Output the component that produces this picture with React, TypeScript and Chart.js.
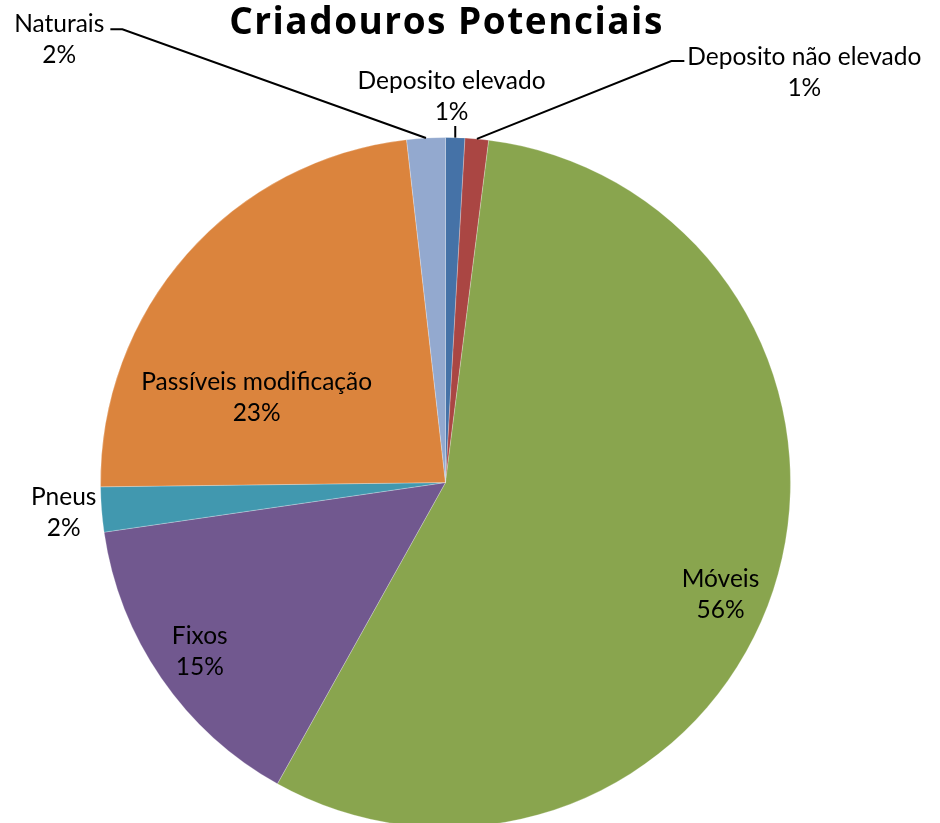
import React, { useEffect, useRef } from "react";
import { Chart, registerables } from "chart.js";

Chart.register(...registerables);

const TITLE = "Criadouros Potenciais";
const categories = [
  "Deposito elevado",
  "Deposito não elevado",
  "Móveis",
  "Fixos",
  "Pneus",
  "Passíveis modificação",
  "Naturais",
];
const values = [0.9, 1.1, 56.1, 14.6, 2.1, 23.4, 1.8];
const colors = ["#4572A7", "#AA4643", "#89A54E", "#71588F", "#4198AF", "#DB843D", "#93A9CF"];

// label layout: angle in degrees clockwise from 12 o'clock (null = slice middle), distance as fraction of radius
const labelAngles: (number | null)[] = [0.9, 41.2, 112.2, null, 265.5, 294.2, 318.9];
const labelDists = [1.119, 1.579, 0.861, 0.865, 1.11, 0.6, 1.703];
const labelLeaders: (string | null)[] = ["bottom", "left", null, null, null, null, "right"];

const LABEL_FONT = `24.5px Lato, 'Noto Sans', sans-serif`;
const TITLE_FONT = `bold 37px 'Open Sans', Lato, sans-serif`;
const LINE_H = 31;

const labelPlugin = {
  id: "pieLabels",
  afterDatasetsDraw(chart: any) {
    const ctx = chart.ctx as CanvasRenderingContext2D;
    const meta = chart.getDatasetMeta(0);
    const data = chart.data.datasets[0].data as number[];
    const total = data.reduce((a, b) => a + b, 0);
    ctx.save();
    // title
    const first = meta.data[0];
    ctx.font = TITLE_FONT;
    (ctx as any).letterSpacing = "1.5px";
    ctx.fillStyle = "#000";
    ctx.textAlign = "center";
    ctx.textBaseline = "alphabetic";
    ctx.fillText(TITLE, first.x + 1, 34);
    (ctx as any).letterSpacing = "0px";

    ctx.font = LABEL_FONT;
    meta.data.forEach((arc: any, i: number) => {
      const { x, y, startAngle, endAngle, outerRadius } = arc;
      const mid = (startAngle + endAngle) / 2;
      const deg = labelAngles[i];
      const a = deg === null ? mid : ((deg - 90) * Math.PI) / 180;
      const r = outerRadius * labelDists[i];
      const cx = x + Math.cos(a) * r;
      const cy = y + Math.sin(a) * r;
      const line1 = String(chart.data.labels[i]);
      const line2 = Math.round((data[i] / total) * 100) + "%";
      ctx.fillStyle = "#000";
      ctx.textAlign = "center";
      ctx.textBaseline = "middle";
      const y1 = cy - LINE_H / 2;
      const y2 = cy + LINE_H / 2;
      ctx.fillText(line1, cx, y1);
      ctx.fillText(line2, cx, y2);

      const leader = labelLeaders[i];
      if (leader) {
        const ex = x + Math.cos(mid) * outerRadius;
        const ey = y + Math.sin(mid) * outerRadius;
        const w1 = ctx.measureText(line1).width;
        ctx.strokeStyle = "#000";
        ctx.lineWidth = 2;
        ctx.beginPath();
        if (leader === "bottom") {
          ctx.moveTo(ex, y2 + 14);
          ctx.lineTo(ex, ey);
        } else if (leader === "right") {
          const sx = cx + w1 / 2 + 6;
          const sy = y1 + 5;
          ctx.moveTo(sx, sy);
          ctx.lineTo(sx + 12, sy);
          ctx.lineTo(ex, ey);
        } else {
          const sx = cx - w1 / 2 - 3;
          const sy = y1 + 4;
          ctx.moveTo(sx, sy);
          ctx.lineTo(sx - 13, sy);
          ctx.lineTo(ex, ey);
        }
        ctx.stroke();
      }
    });
    ctx.restore();
  },
};

export default function App() {
  const ref = useRef<HTMLCanvasElement | null>(null);
  useEffect(() => {
    if (!ref.current) return;
    const chart = new Chart(ref.current, {
      type: "pie",
      data: {
        labels: categories,
        datasets: [
          {
            data: values,
            backgroundColor: colors,
            borderColor: "rgba(255,255,255,0.25)",
            borderWidth: 1,
          },
        ],
      },
      options: {
        responsive: false,
        animation: false,
        devicePixelRatio: 1,
        layout: { padding: { left: 100, right: 149, top: 137, bottom: 22 } },
        plugins: {
          legend: { display: false },
          tooltip: { enabled: false },
          title: { display: false },
        },
      },
      plugins: [labelPlugin],
    });
    return () => chart.destroy();
  }, []);
  return (
    <div
      style={{
        position: "fixed",
        left: 0,
        top: 0,
        width: 940,
        height: 823,
        overflow: "hidden",
        background: "#fff",
      }}
    >
      <canvas ref={ref} width={940} height={850} style={{ display: "block", width: 940, height: 850 }} />
    </div>
  );
}
